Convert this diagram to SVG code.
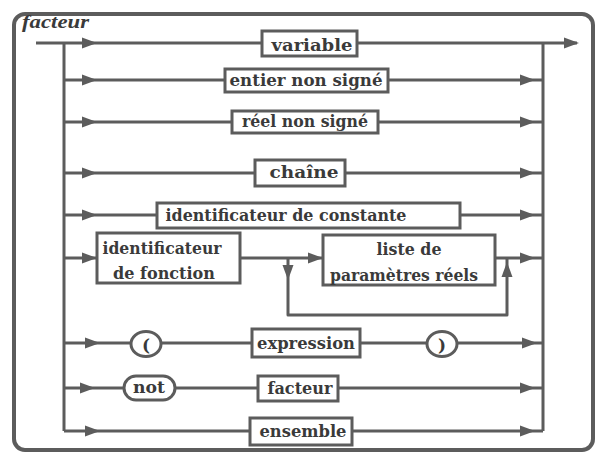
<svg xmlns="http://www.w3.org/2000/svg" xmlns:xlink="http://www.w3.org/1999/xlink" width="602" height="453" viewBox="0 0 602 453">
<style>
.ln{fill:none;stroke:#5c5c5c;stroke-width:3;stroke-linejoin:round}
.bx{fill:#fff;stroke:#5c5c5c;stroke-width:3}
.t{font-family:"DejaVu Serif","Liberation Serif",serif;font-weight:bold;font-size:17px;fill:#3a3a3a;text-anchor:middle}
.ar{fill:#5c5c5c}
</style>
<defs>
<path id="a" d="M-15,-5.5 L0,0 L-15,5.5 Z"/>
</defs>
<rect x="0" y="0" width="602" height="453" fill="#fff"/>
<rect x="14" y="14" width="579" height="436" rx="11" fill="none" stroke="#5c5c5c" stroke-width="4"/>
<text x="22" y="28" font-family="Liberation Serif, serif" font-style="italic" font-weight="bold" font-size="18" fill="#3a3a3a" textLength="67" lengthAdjust="spacingAndGlyphs">facteur</text>
<g id="connectors">
<path class="ln" d="M36,43 H577"/>
<path class="ln" d="M64,43 V431"/>
<path class="ln" d="M543,43 V431"/>
<path class="ln" d="M64,80 H543"/>
<path class="ln" d="M64,122 H543"/>
<path class="ln" d="M64,173 H543"/>
<path class="ln" d="M64,215 H543"/>
<path class="ln" d="M64,258 H97 M240,258 H323 M495,258 H543"/>
<path class="ln" d="M288,258 V315 H507 V258"/>
<path class="ln" d="M64,343 H543"/>
<path class="ln" d="M64,388 H543"/>
<path class="ln" d="M64,431 H543"/>
<g class="ar">
<use xlink:href="#a" x="97" y="43"/>
<use xlink:href="#a" x="579" y="43"/>
<use xlink:href="#a" x="97" y="80"/>
<use xlink:href="#a" x="535" y="80"/>
<use xlink:href="#a" x="97" y="122"/>
<use xlink:href="#a" x="535" y="122"/>
<use xlink:href="#a" x="97" y="173"/>
<use xlink:href="#a" x="535" y="173"/>
<use xlink:href="#a" x="97" y="215"/>
<use xlink:href="#a" x="535" y="215"/>
<use xlink:href="#a" x="97" y="258"/>
<use xlink:href="#a" x="323" y="258"/>
<use xlink:href="#a" x="535" y="258"/>
<use xlink:href="#a" transform="translate(288,280) rotate(90)"/>
<use xlink:href="#a" transform="translate(507,262) rotate(-90)"/>
<use xlink:href="#a" x="100" y="343"/>
<use xlink:href="#a" x="537" y="343"/>
<use xlink:href="#a" x="95" y="388"/>
<use xlink:href="#a" x="535" y="388"/>
<use xlink:href="#a" x="100" y="431"/>
<use xlink:href="#a" x="535" y="431"/>
</g>
</g>
<g id="variable"><rect class="bx" x="262" y="31" width="95" height="25"/><text class="t" x="312" y="51" textLength="81" lengthAdjust="spacingAndGlyphs">variable</text></g>
<g id="entier"><rect class="bx" x="225" y="69" width="163" height="23"/><text class="t" x="306" y="86" textLength="153" lengthAdjust="spacingAndGlyphs">entier non signé</text></g>
<g id="reel"><rect class="bx" x="232" y="111" width="146" height="22"/><text class="t" x="305" y="127" textLength="126" lengthAdjust="spacingAndGlyphs">réel non signé</text></g>
<g id="chaine"><rect class="bx" x="255" y="160" width="90" height="26"/><text class="t" x="304" y="178" textLength="69" lengthAdjust="spacingAndGlyphs">chaîne</text></g>
<g id="constante"><rect class="bx" x="157" y="203" width="303" height="25"/><text class="t" x="286" y="221" textLength="241" lengthAdjust="spacingAndGlyphs">identificateur de constante</text></g>
<g id="fonction"><rect class="bx" x="97" y="233" width="143" height="50"/><text class="t" x="162" y="254" textLength="119" lengthAdjust="spacingAndGlyphs">identificateur</text><text class="t" x="164" y="279" textLength="102" lengthAdjust="spacingAndGlyphs">de fonction</text></g>
<g id="liste"><rect class="bx" x="323" y="235" width="172" height="50"/><text class="t" x="409" y="255" textLength="65" lengthAdjust="spacingAndGlyphs">liste de</text><text class="t" x="404" y="281" textLength="148" lengthAdjust="spacingAndGlyphs">paramètres réels</text></g>
<g id="paren-open"><ellipse class="bx" cx="146" cy="344" rx="15" ry="12.5"/><text class="t" x="146" y="351" font-weight="normal" font-size="19">(</text></g>
<g id="expression"><rect class="bx" x="252" y="329" width="108" height="28"/><text class="t" x="306" y="349" textLength="98" lengthAdjust="spacingAndGlyphs">expression</text></g>
<g id="paren-close"><ellipse class="bx" cx="442" cy="344" rx="15" ry="12.5"/><text class="t" x="442" y="351" font-weight="normal" font-size="19">)</text></g>
<g id="not"><rect class="bx" x="124" y="376" width="51" height="24" rx="12"/><text class="t" x="149" y="393" textLength="32" lengthAdjust="spacingAndGlyphs">not</text></g>
<g id="facteur"><rect class="bx" x="258" y="376" width="80" height="25"/><text class="t" x="300" y="394" textLength="65" lengthAdjust="spacingAndGlyphs">facteur</text></g>
<g id="ensemble"><rect class="bx" x="250" y="418" width="102" height="27"/><text class="t" x="303" y="437" textLength="87" lengthAdjust="spacingAndGlyphs">ensemble</text></g>
</svg>
